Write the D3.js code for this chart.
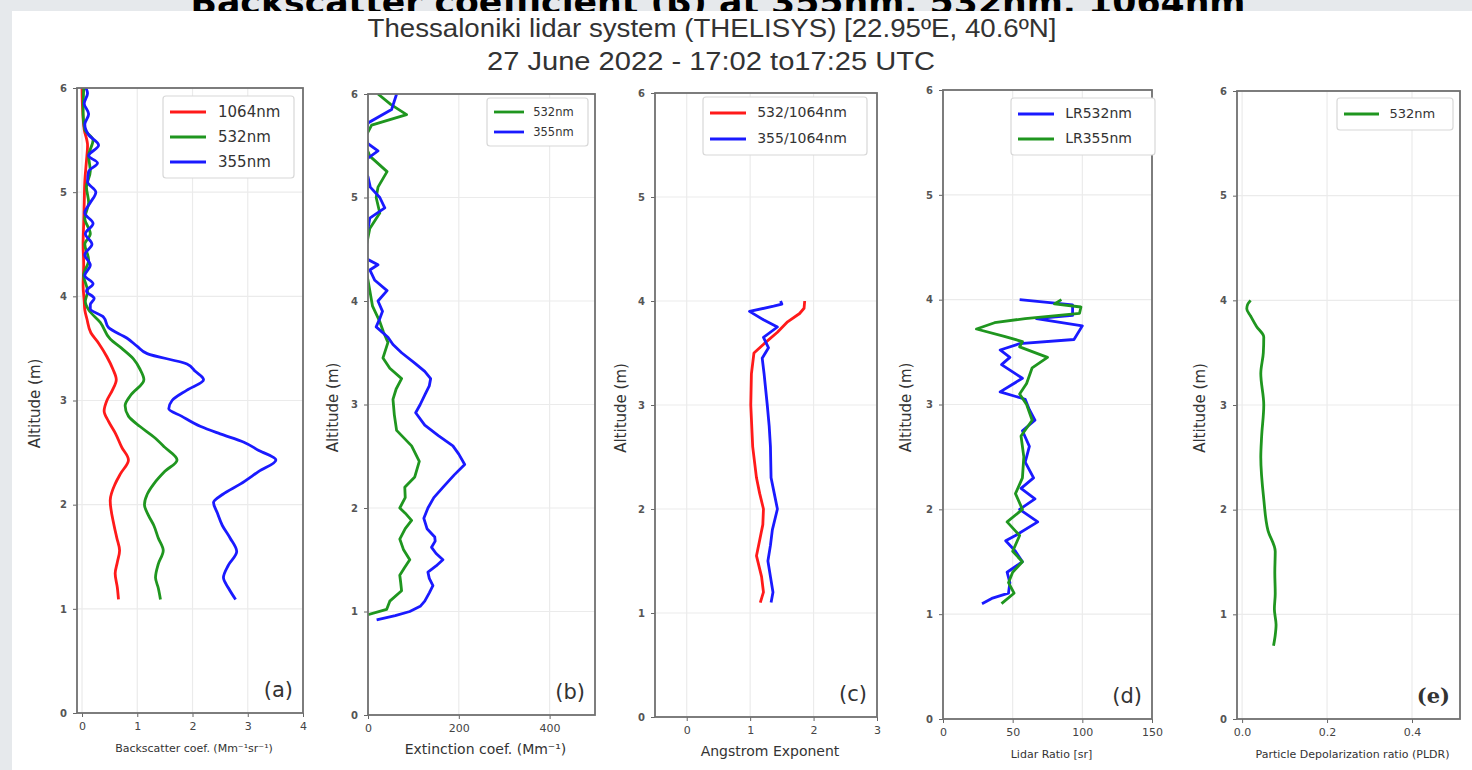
<!DOCTYPE html>
<html>
<head>
<meta charset="utf-8">
<script src="https://cdn.jsdelivr.net/npm/d3@7"></script>
<style>
  body { margin: 0; background: #e6e9ec; }
  svg { display: block; }
</style>
</head>
<body>
<svg id="chart" width="1472" height="770"></svg>
<script>
// [altitude km, value] pairs
const bsc1064 = [[1.09,0.66],[1.2,0.64],[1.34,0.6],[1.45,0.64],[1.56,0.68],[1.68,0.63],[1.8,0.58],[2.04,0.51],[2.2,0.6],[2.3,0.7],[2.43,0.84],[2.55,0.72],[2.69,0.6],[2.8,0.48],[2.9,0.4],[3.0,0.45],[3.1,0.55],[3.2,0.62],[3.3,0.56],[3.42,0.45],[3.55,0.3],[3.65,0.16],[3.78,0.09],[3.87,0.05],[3.95,0.04],[4.1,0.02],[4.3,0.03],[4.5,0.02],[4.7,0.03],[4.9,0.04],[5.1,0.05],[5.3,0.08],[5.45,0.1],[5.6,0.04],[5.8,0.01],[6.0,0.0]];
const bsc532 = [[1.09,1.42],[1.2,1.38],[1.3,1.33],[1.43,1.38],[1.56,1.47],[1.68,1.38],[1.8,1.3],[1.9,1.2],[2.0,1.13],[2.1,1.18],[2.2,1.3],[2.32,1.5],[2.43,1.72],[2.55,1.5],[2.65,1.3],[2.75,1.05],[2.85,0.84],[2.95,0.78],[3.05,0.88],[3.2,1.12],[3.3,1.05],[3.4,0.93],[3.5,0.72],[3.59,0.51],[3.75,0.33],[3.87,0.12],[3.95,0.06],[4.05,0.1],[4.2,0.03],[4.35,0.12],[4.5,0.05],[4.6,0.15],[4.75,0.05],[4.9,0.12],[5.05,0.08],[5.2,0.15],[5.35,0.12],[5.5,0.2],[5.6,0.05],[5.75,0.02],[6.0,0.03]];
const bsc355 = [[1.09,2.78],[1.2,2.65],[1.3,2.56],[1.42,2.65],[1.55,2.8],[1.68,2.68],[1.8,2.54],[1.92,2.45],[2.02,2.38],[2.1,2.55],[2.2,2.87],[2.32,3.2],[2.43,3.51],[2.52,3.2],[2.6,2.93],[2.68,2.5],[2.75,2.15],[2.85,1.8],[2.92,1.57],[3.0,1.63],[3.1,1.9],[3.2,2.2],[3.28,2.05],[3.35,1.9],[3.45,1.18],[3.52,1.0],[3.6,0.81],[3.7,0.48],[3.8,0.39],[3.88,0.15],[3.92,0.15],[3.98,0.22],[4.05,0.08],[4.12,0.2],[4.2,0.05],[4.3,0.15],[4.4,0.05],[4.5,0.18],[4.6,0.06],[4.7,0.2],[4.8,0.05],[4.9,0.15],[5.0,0.25],[5.1,0.1],[5.2,0.12],[5.28,0.28],[5.35,0.12],[5.45,0.3],[5.55,0.12],[5.65,0.05],[5.75,0.12],[5.85,0.04],[5.95,0.1],[6.0,0.07]];

const ext532 = [[0.97,0],[1.02,41],[1.1,48],[1.2,74],[1.28,72],[1.35,70],[1.42,80],[1.5,92],[1.6,78],[1.7,70],[1.8,82],[1.88,96],[1.95,82],[2.0,70],[2.1,82],[2.2,81],[2.3,103],[2.45,113],[2.6,96],[2.75,63],[2.9,58],[3.05,55],[3.15,62],[3.25,74],[3.35,48],[3.45,33],[3.6,44],[3.7,34],[3.8,26],[3.95,10],[4.2,0],[4.4,-10],[4.7,4],[4.85,26],[5.0,18],[5.1,22],[5.25,42],[5.4,4],[5.55,-10],[5.7,8],[5.8,85],[5.9,50],[6.0,22]];
const ext355 = [[0.92,19],[0.96,60],[1.0,92],[1.05,115],[1.1,125],[1.18,135],[1.25,143],[1.32,135],[1.38,132],[1.44,150],[1.5,165],[1.56,150],[1.62,140],[1.68,148],[1.72,147],[1.8,130],[1.9,123],[2.0,132],[2.1,145],[2.2,165],[2.32,190],[2.42,213],[2.52,200],[2.6,187],[2.7,155],[2.8,125],[2.92,105],[3.0,115],[3.1,126],[3.18,135],[3.25,138],[3.32,125],[3.4,103],[3.5,74],[3.58,55],[3.65,44],[3.75,18],[3.82,25],[3.9,32],[4.0,22],[4.1,42],[4.2,15],[4.3,4],[4.35,22],[4.4,0],[4.55,-30],[4.7,0],[4.8,4],[4.9,37],[5.0,26],[5.1,5],[5.2,0],[5.3,-15],[5.38,0],[5.45,22],[5.52,0],[5.6,-5],[5.72,0],[5.85,52],[6.0,63]];

const ae532_1064 = [[1.1,1.16],[1.2,1.21],[1.35,1.18],[1.55,1.1],[1.7,1.15],[1.85,1.2],[2.0,1.21],[2.15,1.15],[2.3,1.1],[2.6,1.04],[3.0,1.01],[3.3,1.02],[3.5,1.06],[3.6,1.24],[3.7,1.43],[3.8,1.59],[3.88,1.78],[3.93,1.85],[4.0,1.86]];
const ae355_1064 = [[1.1,1.33],[1.2,1.36],[1.35,1.32],[1.5,1.28],[1.65,1.32],[1.8,1.35],[2.0,1.43],[2.15,1.38],[2.3,1.33],[2.6,1.32],[2.8,1.3],[3.0,1.27],[3.3,1.22],[3.45,1.19],[3.55,1.29],[3.65,1.21],[3.75,1.43],[3.82,1.21],[3.9,0.99],[3.95,1.37],[3.97,1.5],[4.0,1.48]];

const lr532 = [[1.1,28],[1.15,35],[1.2,47],[1.3,48],[1.4,46],[1.5,57],[1.6,52],[1.7,45],[1.75,52],[1.88,68],[2.0,55],[2.1,66],[2.2,56],[2.3,65],[2.45,59],[2.6,62],[2.75,57],[2.85,66],[2.95,62],[3.05,59],[3.12,41],[3.25,57],[3.38,42],[3.45,48],[3.52,41],[3.58,55],[3.62,94],[3.75,100],[3.82,67],[3.85,93],[3.95,93],[4.0,55]];
const lr355 = [[1.1,42],[1.2,51],[1.3,47],[1.4,50],[1.5,57],[1.6,50],[1.75,55],[1.88,46],[2.0,57],[2.15,52],[2.3,57],[2.5,58],[2.7,56],[2.85,64],[3.0,60],[3.1,55],[3.2,60],[3.35,64],[3.45,75],[3.55,55],[3.6,57],[3.65,44],[3.72,24],[3.78,37],[3.82,59],[3.87,98],[3.93,99],[3.96,80],[4.0,85]];

const pldr532 = [[0.7,0.074],[0.8,0.078],[0.9,0.08],[1.05,0.076],[1.2,0.078],[1.4,0.077],[1.6,0.078],[1.8,0.061],[2.1,0.051],[2.5,0.044],[2.7,0.046],[3.0,0.051],[3.3,0.044],[3.5,0.05],[3.65,0.051],[3.75,0.034],[3.85,0.02],[3.92,0.011],[3.96,0.013],[4.0,0.02]];

const headingText = 'Backscatter coefficient (\u03B2) at 355nm, 532nm, 1064nm';
const titleLines = ['Thessaloniki lidar system (THELISYS) [22.95ºE, 40.6ºN]', '27 June 2022 - 17:02 to17:25 UTC'];
const altTicks = [0, 1, 2, 3, 4, 5, 6];

const RED = '#ff1a1a', GREEN = '#1f961f', BLUE = '#1a1aff';

const panels = [
  { tag: '(a)', x0: 77, x1: 303, y0: 713, y1: 88, xd: [-0.091, 4], xt: [0,1,2,3,4], fmt: d3.format('d'),
    xlabel: 'Backscatter coef. (Mm\u207B\u00B9sr\u207B\u00B9)', xlSize: 11, ylX: 35,
    series: [{ d: bsc1064, c: RED, n: '1064nm' }, { d: bsc532, c: GREEN, n: '532nm' }, { d: bsc355, c: BLUE, n: '355nm' }],
    curve: d3.curveMonotoneY, leg: { x: 163, y: 96, w: 131, h: 82, fs: 15, row: 25, len: 36 } },
  { tag: '(b)', x0: 368, x1: 595, y0: 715, y1: 94, xd: [0, 500], xt: [0,200,400], fmt: d3.format('d'),
    xlabel: 'Extinction coef. (Mm\u207B\u00B9)', xlSize: 14, ylX: 333,
    series: [{ d: ext532, c: GREEN, n: '532nm' }, { d: ext355, c: BLUE, n: '355nm' }],
    curve: d3.curveLinear, leg: { x: 487, y: 98, w: 101, h: 48, fs: 11.5, row: 20, len: 30 } },
  { tag: '(c)', x0: 655, x1: 877, y0: 717, y1: 93, xd: [-0.5, 3], xt: [0,1,2,3], fmt: d3.format('d'),
    xlabel: 'Angstrom Exponent', xlSize: 14, ylX: 621,
    series: [{ d: ae532_1064, c: RED, n: '532/1064nm' }, { d: ae355_1064, c: BLUE, n: '355/1064nm' }],
    curve: d3.curveLinear, leg: { x: 703, y: 97, w: 164, h: 58, fs: 14, row: 26, len: 36 } },
  { tag: '(d)', x0: 943, x1: 1152, y0: 719, y1: 90, xd: [0, 150], xt: [0,50,100,150], fmt: d3.format('d'),
    xlabel: 'Lidar Ratio [sr]', xlSize: 11, ylX: 906,
    series: [{ d: lr532, c: BLUE, n: 'LR532nm' }, { d: lr355, c: GREEN, n: 'LR355nm' }],
    curve: d3.curveLinear, leg: { x: 1011, y: 98, w: 144, h: 57, fs: 14, row: 25, len: 36 } },
  { tag: '(e)', x0: 1237, x1: 1460, y0: 719, y1: 91, xd: [-0.012, 0.513], xt: [0,0.2,0.4], fmt: d3.format('.1f'),
    xlabel: 'Particle Depolarization ratio (PLDR)', xlSize: 11, ylX: 1200,
    series: [{ d: pldr532, c: GREEN, n: '532nm' }],
    curve: d3.curveMonotoneY, leg: { x: 1337, y: 98, w: 116, h: 32, fs: 13, row: 25, len: 35 } }
];

const svg = d3.select('#chart');
const FONT = 'DejaVu Sans, sans-serif';

// heading of the page behind, only its lower strip shows above the white sheet
svg.append('svg').attr('x', 0).attr('y', 0).attr('width', 1472).attr('height', 11)
  .append('text').attr('x', 718).attr('y', 14).attr('text-anchor', 'middle')
  .attr('font-family', FONT).attr('font-weight', 'bold').attr('font-size', 34)
  .attr('textLength', 1055).attr('lengthAdjust', 'spacingAndGlyphs')
  .text(headingText);
svg.append('rect').attr('x', 12).attr('y', 11).attr('width', 1460).attr('height', 759).attr('fill', '#fff');

svg.append('text').attr('x', 712).attr('y', 37).attr('text-anchor', 'middle')
  .attr('font-family', 'Liberation Sans Narrow, Liberation Sans, sans-serif').attr('font-size', 25).attr('fill', '#333')
  .attr('textLength', 689).attr('lengthAdjust', 'spacingAndGlyphs').text(titleLines[0]);
svg.append('text').attr('x', 711).attr('y', 70).attr('text-anchor', 'middle')
  .attr('font-family', 'Liberation Sans Narrow, Liberation Sans, sans-serif').attr('font-size', 25).attr('fill', '#333')
  .attr('textLength', 448).attr('lengthAdjust', 'spacingAndGlyphs').text(titleLines[1]);

panels.forEach((p, i) => {
  const x = d3.scaleLinear().domain(p.xd).range([p.x0, p.x1]);
  const y = d3.scaleLinear().domain([0, 6]).range([p.y0, p.y1]);
  const g = svg.append('g');

  // grid
  g.append('g').selectAll('line').data(p.xt).join('line')
    .attr('x1', d => x(d)).attr('x2', d => x(d)).attr('y1', p.y0).attr('y2', p.y1)
    .attr('stroke', '#ebebeb').attr('stroke-width', 1.2);
  g.append('g').selectAll('line').data(altTicks).join('line')
    .attr('x1', p.x0).attr('x2', p.x1).attr('y1', d => y(d)).attr('y2', d => y(d))
    .attr('stroke', '#ebebeb').attr('stroke-width', 1.2);

  // axes
  const ax = g.append('g').attr('transform', `translate(0,${p.y0})`)
    .call(d3.axisBottom(x).tickValues(p.xt).tickFormat(p.fmt).tickSize(4).tickPadding(5));
  const ay = g.append('g').attr('transform', `translate(${p.x0},0)`)
    .call(d3.axisLeft(y).tickValues(altTicks).tickFormat(d3.format('d')).tickSize(4).tickPadding(6));
  [ax, ay].forEach(a => {
    a.select('.domain').remove();
    a.selectAll('line').attr('stroke', '#666');
    a.selectAll('text').attr('font-family', FONT).attr('font-size', 11).attr('fill', '#444');
  });
  ay.selectAll('text').attr('font-size', 10).attr('font-weight', 'bold').attr('fill', '#555');

  // lines
  const clipId = 'clip' + i;
  svg.append('clipPath').attr('id', clipId).append('rect')
    .attr('x', p.x0).attr('y', p.y1).attr('width', p.x1 - p.x0).attr('height', p.y0 - p.y1);
  const line = d3.line().x(d => x(d[1])).y(d => y(d[0])).curve(p.curve);
  g.append('g').attr('clip-path', `url(#${clipId})`).selectAll('path').data(p.series).join('path')
    .attr('d', s => line(s.d)).attr('fill', 'none').attr('stroke', s => s.c)
    .attr('stroke-width', 2.8).attr('stroke-linejoin', 'round');

  // frame
  g.append('rect').attr('x', p.x0).attr('y', p.y1).attr('width', p.x1 - p.x0).attr('height', p.y0 - p.y1)
    .attr('fill', 'none').attr('stroke', '#707070').attr('stroke-width', 1.8);

  // labels
  g.append('text').attr('x', (p.x0 + p.x1) / 2 + 4).attr('y', p.y0 + 39).attr('text-anchor', 'middle')
    .attr('font-family', FONT).attr('font-size', p.xlSize).attr('fill', '#333').text(p.xlabel);
  g.append('text').attr('transform', `translate(${p.ylX},${(p.y0 + p.y1) / 2 + 3}) rotate(-90)`)
    .attr('text-anchor', 'middle').attr('dominant-baseline', 'middle')
    .attr('font-family', FONT).attr('font-size', 15).attr('fill', '#333').text('Altitude (m)');
  g.append('text').attr('x', p.x1 - 10).attr('y', p.y0 - 16).attr('text-anchor', 'end')
    .attr('font-family', i === 4 ? 'DejaVu Serif, serif' : FONT).attr('font-weight', i === 4 ? 'bold' : 'normal')
    .attr('font-size', 21).attr('fill', '#333').text(p.tag);

  // legend
  const L = p.leg;
  const lg = g.append('g');
  lg.append('rect').attr('x', L.x).attr('y', L.y).attr('width', L.w).attr('height', L.h).attr('rx', 3)
    .attr('fill', '#fff').attr('stroke', '#d8d8d8').attr('stroke-width', 1.2);
  p.series.forEach((s, k) => {
    const cy = L.y + L.h / 2 - (p.series.length - 1) * L.row / 2 + k * L.row;
    lg.append('line').attr('x1', L.x + 7).attr('x2', L.x + 7 + L.len).attr('y1', cy).attr('y2', cy)
      .attr('stroke', s.c).attr('stroke-width', 2.8);
    lg.append('text').attr('x', L.x + 7 + L.len + L.fs * 0.8).attr('y', cy).attr('dominant-baseline', 'middle')
      .attr('font-family', FONT).attr('font-size', L.fs).attr('fill', '#333').text(s.n);
  });
});
</script>
</body>
</html>
